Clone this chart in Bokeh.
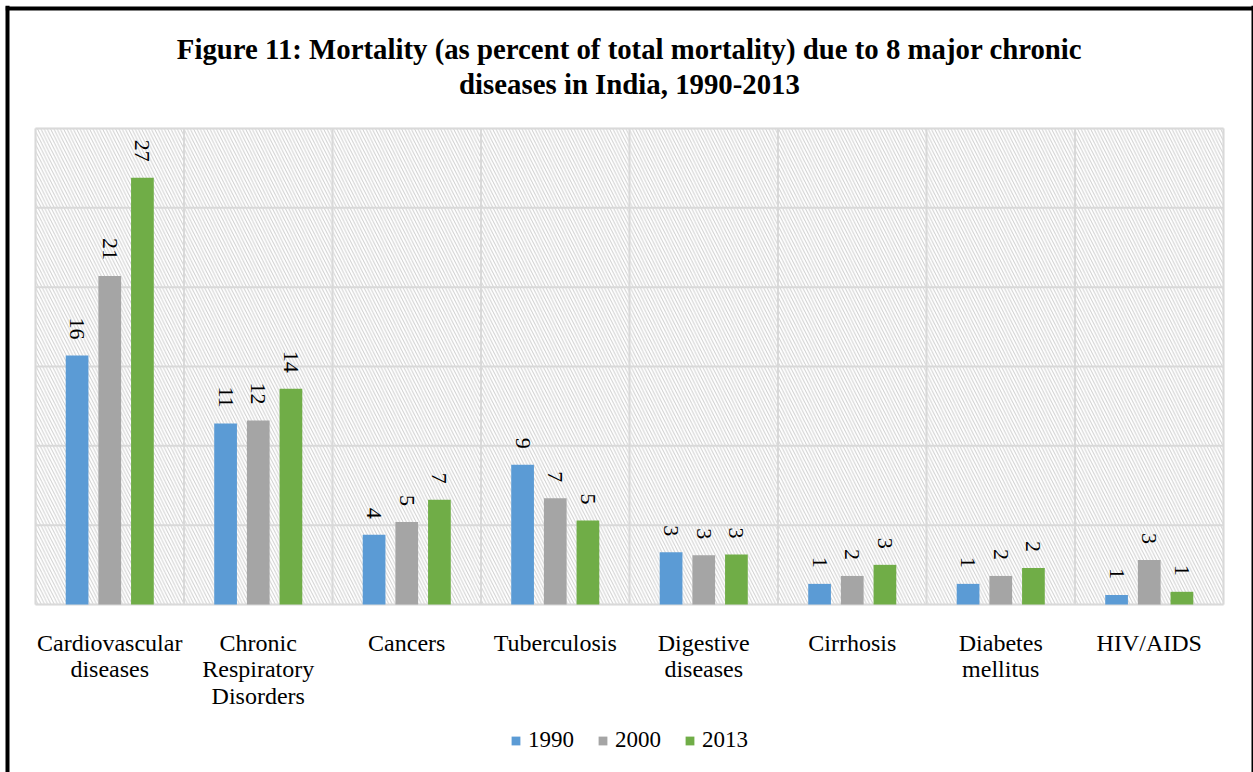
import math
from bokeh.plotting import figure
from bokeh.models import (FactorRange, Range1d, FixedTicker, BoxAnnotation, Span,
                          Legend, LegendItem, ColumnDataSource)
from bokeh.transform import dodge
from bokeh.core.properties import value
from bokeh.embed import file_html
from bokeh.resources import INLINE

categories = ["Cardiovascular diseases", "Chronic Respiratory Disorders", "Cancers",
              "Tuberculosis", "Digestive diseases", "Cirrhosis", "Diabetes mellitus", "HIV/AIDS"]
# category tick labels, broken into lines as in the chart
label_line1 = ["Cardiovascular", "Chronic", "Cancers", "Tuberculosis", "Digestive",
               "Cirrhosis", "Diabetes", "HIV/AIDS"]
label_line2 = ["diseases", "Respiratory", "", "", "diseases", "", "mellitus", ""]
label_line3 = ["", "Disorders", "", "", "", "", "", ""]
years = ["1990", "2000", "2013"]

v1990 = [15.7, 11.4, 4.4, 8.8, 3.3, 1.3, 1.3, 0.6]
v2000 = [20.7, 11.6, 5.2, 6.7, 3.1, 1.8, 1.8, 2.8]
v2013 = [26.9, 13.6, 6.6, 5.3, 3.15, 2.5, 2.3, 0.8]

lab1990 = ["16", "11", "4", "9", "3", "1", "1", "1"]
lab2000 = ["21", "12", "5", "7", "3", "2", "2", "3"]
lab2013 = ["27", "14", "7", "5", "3", "3", "2", "1"]

y_ticks = [0, 5, 10, 15, 20, 25, 30]
boundaries = [0, 1, 2, 3, 4, 5, 6, 7, 8]

title_line1 = "Figure 11: Mortality (as percent of total mortality) due to 8 major chronic"
title_line2 = "diseases in India, 1990-2013"

colors = ["#5B9BD5", "#A5A5A5", "#70AD47"]
offsets = [-0.22, 0.0, 0.22]
bar_w = 0.153
GRID = "#d9d9d9"
SERIF = "Liberation Serif"

# layout (canvas pixels)
W, H = 1253, 772
mb_left, mb_top = 5, 5
area_left, area_right = 37, 1225          # plot area (hatched region) in canvas px
area_top, area_bottom = 128, 604
frame_w = W - mb_left
pad = (frame_w - (area_right - area_left)) / 2.0 / ((area_right - area_left) / len(categories))
px_per_unit = (area_bottom - area_top) / y_ticks[-1]
y_end = y_ticks[-1] + (area_top - mb_top) / px_per_unit
y_start = -(H - area_bottom) / px_per_unit

p = figure(x_range=FactorRange(*categories, range_padding=pad, range_padding_units="absolute"),
           y_range=Range1d(y_start, y_end),
           width=W, height=H, output_backend="svg", toolbar_location=None,
           x_axis_location=None, y_axis_location=None,
           min_border_left=mb_left, min_border_right=0, min_border_top=mb_top,
           min_border_bottom=0)
p.background_fill_color = "white"
p.border_fill_color = "white"
p.outline_line_color = None

# black frame (left, top, right edges)
for loc, dim, lw in ((6.5, "height", 5), (8, "width", 4), (W + 0.5, "height", 5)):
    p.add_layout(Span(location=loc, location_units="canvas", dimension=dim,
                      line_color="black", line_width=lw))

# title (two centred lines)
mid = [len(categories) / 2]
for txt, off in ((title_line1, -80), (title_line2, -45)):
    p.text(x=mid, y=[y_ticks[-1]], text=[txt], y_offset=off,
           text_align="center", text_baseline="alphabetic",
           text_font=value(SERIF), text_font_size="28.8px", text_font_style="bold",
           text_color="black")

# hatched plot area with light outline
hatch = BoxAnnotation(bottom=y_ticks[0], top=y_ticks[-1], left=boundaries[0], right=boundaries[-1],
                      fill_color="white", fill_alpha=1.0,
                      line_color=GRID, line_width=2,
                      hatch_pattern="left_diagonal_line", hatch_color="#cfcfcf",
                      hatch_scale=6.5, hatch_weight=1, level="image")
p.add_layout(hatch)

p.ygrid.ticker = FixedTicker(ticks=y_ticks)
p.ygrid.grid_line_color = None
p.xgrid.visible = False

# horizontal gridlines and vertical separators
p.segment(x0=boundaries[0], x1=boundaries[-1], y0=y_ticks, y1=y_ticks,
          line_color=GRID, line_width=2)
p.segment(x0=boundaries, x1=boundaries, y0=y_ticks[0], y1=y_ticks[-1],
          line_color=GRID, line_width=2)

series = [(v1990, lab1990), (v2000, lab2000), (v2013, lab2013)]
items = []
for (vals, labs), col, off, yr in zip(series, colors, offsets, years):
    src = ColumnDataSource(dict(cat=categories, top=vals, label=labs))
    r = p.vbar(x=dodge("cat", off, range=p.x_range), top="top", width=bar_w,
               source=src, fill_color=col, line_color=None)
    p.text(x=dodge("cat", off, range=p.x_range), y="top", text="label", source=src,
           angle=-math.pi / 2, text_align="right", text_baseline="middle",
           y_offset=-16, text_font=value(SERIF), text_font_size="22px",
           text_color="black")
    items.append(LegendItem(label=yr, renderers=[r]))

# category labels under the plot area
cat_src = ColumnDataSource(dict(cat=categories, l1=label_line1, l2=label_line2,
                                l3=label_line3, base=[y_ticks[0]] * len(categories)))
for col_name, off_px in (("l1", 38), ("l2", 64.5), ("l3", 91)):
    p.text(x="cat", y="base", text=col_name, source=cat_src, y_offset=off_px,
           text_align="center", text_baseline="alphabetic",
           text_font=value(SERIF), text_font_size="24px", text_color="black")

legend = Legend(items=items, orientation="horizontal", location="bottom_center",
                border_line_alpha=0, background_fill_alpha=0,
                label_text_font=SERIF, label_text_font_size="23px",
                label_text_color="black",
                glyph_width=11, glyph_height=11, label_standoff=7, spacing=23,
                margin=15, padding=4)
p.add_layout(legend, "center")

open("out.html", "w").write(file_html(p, INLINE))
